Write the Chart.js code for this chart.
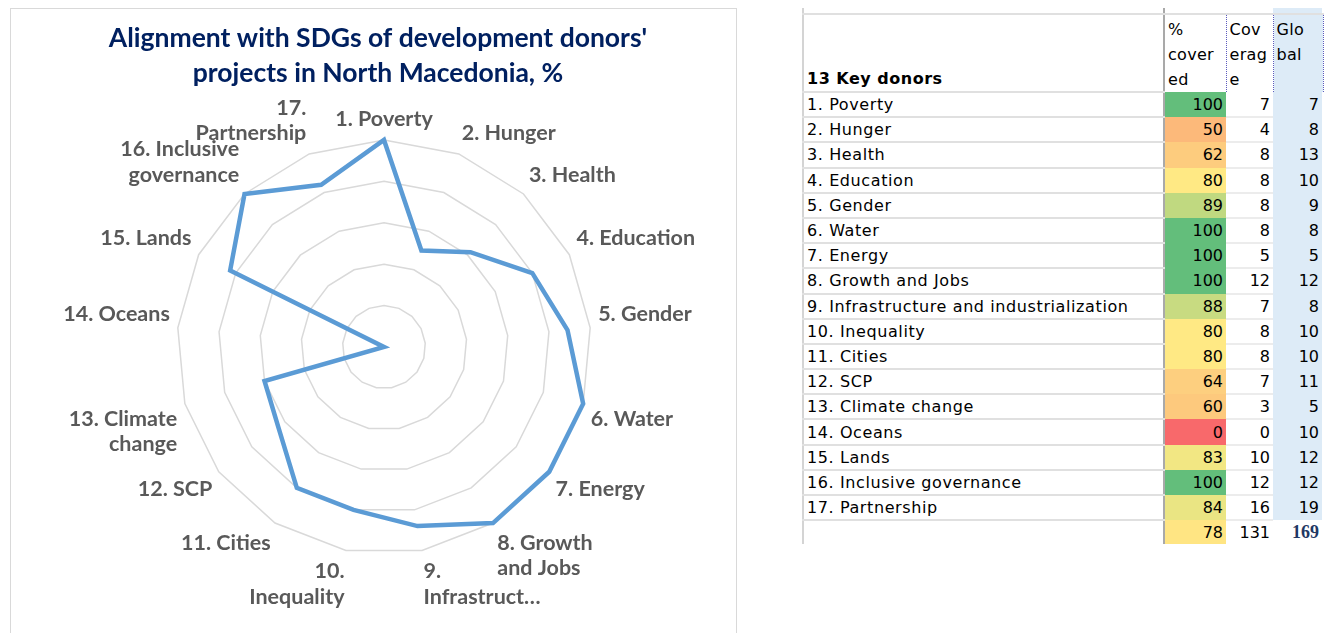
<!DOCTYPE html>
<html>
<head>
<meta charset="utf-8">
<script src="https://cdn.jsdelivr.net/npm/chart.js@4"></script>
<style>
    body { margin: 0; width: 1335px; height: 633px; overflow: hidden; background: #fff; position: relative; }
    #panel { position: absolute; left: 10px; top: 8px; width: 727px; height: 640px; border: 1px solid #d9d9d9; box-sizing: border-box; }
    #radar { position: absolute; left: 0; top: 0; }
    #donors { position: absolute; left: 802px; top: 8px; border-collapse: collapse; table-layout: fixed;
              font-family: "DejaVu Sans", sans-serif; font-size: 16px; letter-spacing: 0.6px; color: #000; }
    #donors td { padding: 0 3px; white-space: nowrap; overflow: hidden; border: 0; height: 23.2px; line-height: 23px; }
    #donors td.name { border-left: 2px solid #d4d4d4; border-right: 2px solid #a9a9a9; border-bottom: 2px solid #e0e0e0; }
    #donors td.num { text-align: right; letter-spacing: 0; }
    #donors td.cov { border-bottom: 2px solid #ececec; }
    #donors td.glob { background: #ddebf7; border-right: 2px solid #fff; }
    #donors tr.top td { height: 5px; line-height: 5px; border-bottom: 2px solid #e0e0e0; }
    #donors tr.head td { height: 73px; vertical-align: top; line-height: 25px; padding-top: 2px; letter-spacing: 0.3px; }
    #donors tr.head td.name { vertical-align: bottom; font-weight: bold; padding-bottom: 0; letter-spacing: 0.5px; }
    #donors tr.head td.dot { border-left: 1px dotted #5b5bbd; }
    #donors tr.head td.glob { border-right: 1px dotted #5b5bbd; }
    #donors td.total { background: #fff; font-family: "Liberation Serif", serif; font-size: 18px; font-weight: bold; color: #1f3864; }
</style>
</head>
<body>
<div id="panel"><canvas id="radar" width="727" height="630"></canvas></div>
<table id="donors"></table>

<script>
// SDG names as written in the table
const goals = ["1. Poverty", "2. Hunger", "3. Health", "4. Education", "5. Gender", "6. Water", "7. Energy",
    "8. Growth and Jobs", "9. Infrastructure and industrialization", "10. Inequality", "11. Cities", "12. SCP",
    "13. Climate change", "14. Oceans", "15. Lands", "16. Inclusive governance", "17. Partnership"];

// labels as wrapped on the radar
const radarLabels = ["1. Poverty", "2. Hunger", "3. Health", "4. Education", "5. Gender", "6. Water", "7. Energy",
    ["8. Growth", "and Jobs"], ["9.", "Infrastruct…"], ["10.", "Inequality"], "11. Cities", "12. SCP",
    ["13. Climate", "change"], "14. Oceans", "15. Lands", ["16. Inclusive", "governance"], ["17.", "Partnership"]];

const pctCovered = [100, 50, 62, 80, 89, 100, 100, 100, 88, 80, 80, 64, 60, 0, 83, 100, 84];
const coverage   = [7, 4, 8, 8, 8, 8, 5, 12, 7, 8, 8, 7, 3, 0, 10, 12, 16];
const globalCnt  = [7, 8, 13, 10, 9, 8, 5, 12, 8, 10, 10, 11, 5, 10, 12, 12, 19];
const totals     = [78, 131, 169]; // % covered, coverage, global

const chartTitle = ["Alignment with SDGs of development donors'", "projects in North Macedonia, %"];
const tableTitle = "13 Key donors";
// column headers, broken the way the narrow cells wrap them
const headers = [["%", "cover", "ed"], ["Cov", "erag", "e"], ["Glo", "bal"]];

/**
 * Excel-style 3 colour scale (red - yellow - green), midpoint at the median
 */
function colorScale(values) {
    let sorted = values.slice().sort((a, b) => a - b);
    let n = sorted.length;
    let mid = n % 2 ? sorted[(n - 1) / 2] : (sorted[n / 2 - 1] + sorted[n / 2]) / 2;
    let lo = sorted[0], hi = sorted[n - 1];
    let red = [248, 105, 107], yellow = [255, 235, 132], green = [99, 190, 123];
    return function(v) {
        let a, b, t;
        if (v <= mid) { a = red; b = yellow; t = (v - lo) / (mid - lo); }
        else { a = yellow; b = green; t = (v - mid) / (hi - mid); }
        let c = a.map((x, i) => Math.round(x + (b[i] - x) * t));
        return "rgb(" + c.join(",") + ")";
    };
}

function buildTable() {
    let pctColor = colorScale(pctCovered.concat([totals[0]]));
    let html = '<colgroup><col style="width:361px"><col style="width:62px"><col style="width:47px"><col style="width:50px"></colgroup>';
    html += '<tr class="top"><td class="name"></td><td></td><td class="dot"></td><td class="glob dot"></td></tr>';
    html += '<tr class="head"><td class="name">' + tableTitle + '</td>' +
        '<td>' + headers[0].join("<br>") + '</td><td class="dot">' + headers[1].join("<br>") + '</td>' +
        '<td class="glob dot">' + headers[2].join("<br>") + '</td></tr>';
    goals.forEach((g, i) => {
        html += '<tr><td class="name">' + g + '</td>' +
            '<td class="num" style="background:' + pctColor(pctCovered[i]) + '">' + pctCovered[i] + '</td>' +
            '<td class="num cov">' + coverage[i] + '</td>' +
            '<td class="num glob">' + globalCnt[i] + '</td></tr>';
    });
    html += '<tr><td class="name" style="border-bottom:0"></td>' +
        '<td class="num" style="background:' + pctColor(totals[0]) + '">' + totals[0] + '</td>' +
        '<td class="num">' + totals[1] + '</td>' +
        '<td class="num glob total">' + totals[2] + '</td></tr>';
    document.getElementById("donors").innerHTML = html;
}

function createChart() {
    let ctx = document.getElementById("radar").getContext("2d");
    new Chart(ctx, {
        type: "radar",
        data: {
            labels: radarLabels,
            datasets: [{
                label: "% covered",
                data: pctCovered,
                borderColor: "#5b9bd5",
                borderWidth: 4.5,
                borderJoinStyle: "miter",
                fill: false,
                pointRadius: 0,
                pointHoverRadius: 0
            }]
        },
        options: {
            responsive: false,
            animation: false,
            layout: { padding: { left: 7, right: 0, top: 0, bottom: 24 } },
            plugins: {
                legend: { display: false },
                tooltip: { enabled: false },
                title: {
                    display: true,
                    text: chartTitle,
                    color: "#002060",
                    font: { family: "Lato", size: 26.5, weight: "bold", lineHeight: 1.32 },
                    padding: { top: 12, bottom: 0 }
                }
            },
            scales: {
                r: {
                    min: 0,
                    max: 100,
                    ticks: { stepSize: 20, display: false },
                    angleLines: { display: false },
                    grid: { color: "#d9d9d9", lineWidth: 1.5 },
                    pointLabels: {
                        color: "#595959",
                        font: { family: "Lato", size: 21.5, weight: "bold" },
                        padding: 8
                    }
                }
            }
        }
    });
}

buildTable();
createChart();
</script>
</body>
</html>
